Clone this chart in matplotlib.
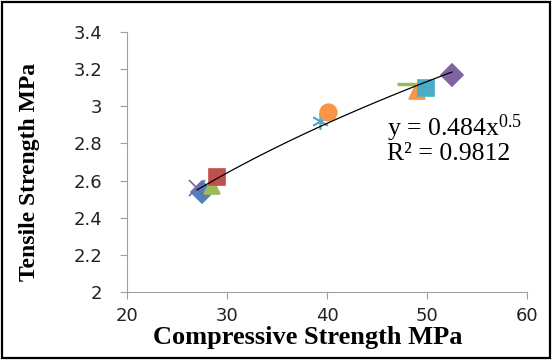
import numpy as np
import matplotlib
matplotlib.use("Agg")
import matplotlib.pyplot as plt
from matplotlib.ticker import FuncFormatter, MultipleLocator
from matplotlib.patches import Rectangle

# valores
compressiva = [27.5, 27.0, 28.5, 29.0, 39.3, 40.1, 48.4, 49.0, 49.9, 52.5]
tracao = [2.54, 2.56, 2.57, 2.62, 2.92, 2.97, 3.12, 3.08, 3.10, 3.17]
marcadores = ["D", "x", "^", "s", (6, 2, 0), "o", "_", "^", "s", "D"]
cores = ["#4F81BD", "#8064A2", "#9BBB59", "#C0504D", "#4BACC6",
         "#F79646", "#9BBB59", "#F79646", "#4BACC6", "#8064A2"]
tamanhos = [11, 12, 12, 12, 12, 12, 20, 12, 12, 11]

equacao = "y = 0.484x$^{0.5}$"
r2 = "R² = 0.9812"

plt.rcParams["mathtext.fontset"] = "custom"
plt.rcParams["mathtext.rm"] = "Liberation Serif"
plt.rcParams["mathtext.default"] = "rm"

fig = plt.figure(figsize=(5.53, 3.6), dpi=100)
ax = fig.add_axes([127 / 553, 1 - 292 / 360, 400 / 553, 260 / 360])

for x, y, m, c, s in zip(compressiva, tracao, marcadores, cores, tamanhos):
    mew = 2.5 if m == "_" else 1.2
    ax.plot(x, y, marker=m, color=c, markersize=s, markeredgewidth=mew,
            linestyle="none", zorder=2)

# linha de tendência (potência)
b, ln_a = np.polyfit(np.log(compressiva), np.log(tracao), 1)
xs = np.linspace(min(compressiva), max(compressiva), 100)
ax.plot(xs, np.exp(ln_a) * xs ** b, color="black", linewidth=0.9, zorder=3)

ax.text(46, 2.88, equacao, fontsize=18.5, family="Liberation Serif", va="center")
ax.text(46, 2.745, r2, fontsize=18.5, family="Liberation Serif", va="center")

ax.set_xlim(20, 60)
ax.set_ylim(2, 3.4)
ax.xaxis.set_major_locator(MultipleLocator(10))
ax.yaxis.set_major_locator(MultipleLocator(0.2))
ax.yaxis.set_major_formatter(FuncFormatter(lambda v, p: "%g" % round(v, 1)))

for lado in ["top", "right"]:
    ax.spines[lado].set_visible(False)
for lado in ["left", "bottom"]:
    ax.spines[lado].set_color("#A0A0A0")
ax.tick_params(colors="#A0A0A0", labelcolor="#222222", labelsize=13,
               direction="out", length=5)
ax.tick_params(axis="x", pad=6)
ax.tick_params(axis="y", pad=13)

ax.set_xlabel("Compressive Strength MPa", family="Liberation Serif",
              fontweight="bold", fontsize=19)
ax.xaxis.set_label_coords(0.4525, -0.13)
ax.set_ylabel("Tensile Strength MPa", family="Liberation Serif",
              fontweight="bold", fontsize=17)
ax.yaxis.set_label_coords(-0.2175, 0.46)

fig.patches.append(Rectangle((0.004, 0.006), 0.99, 0.988, transform=fig.transFigure,
                             fill=False, edgecolor="black", linewidth=1.6))

fig.savefig("out.png", dpi=100)
